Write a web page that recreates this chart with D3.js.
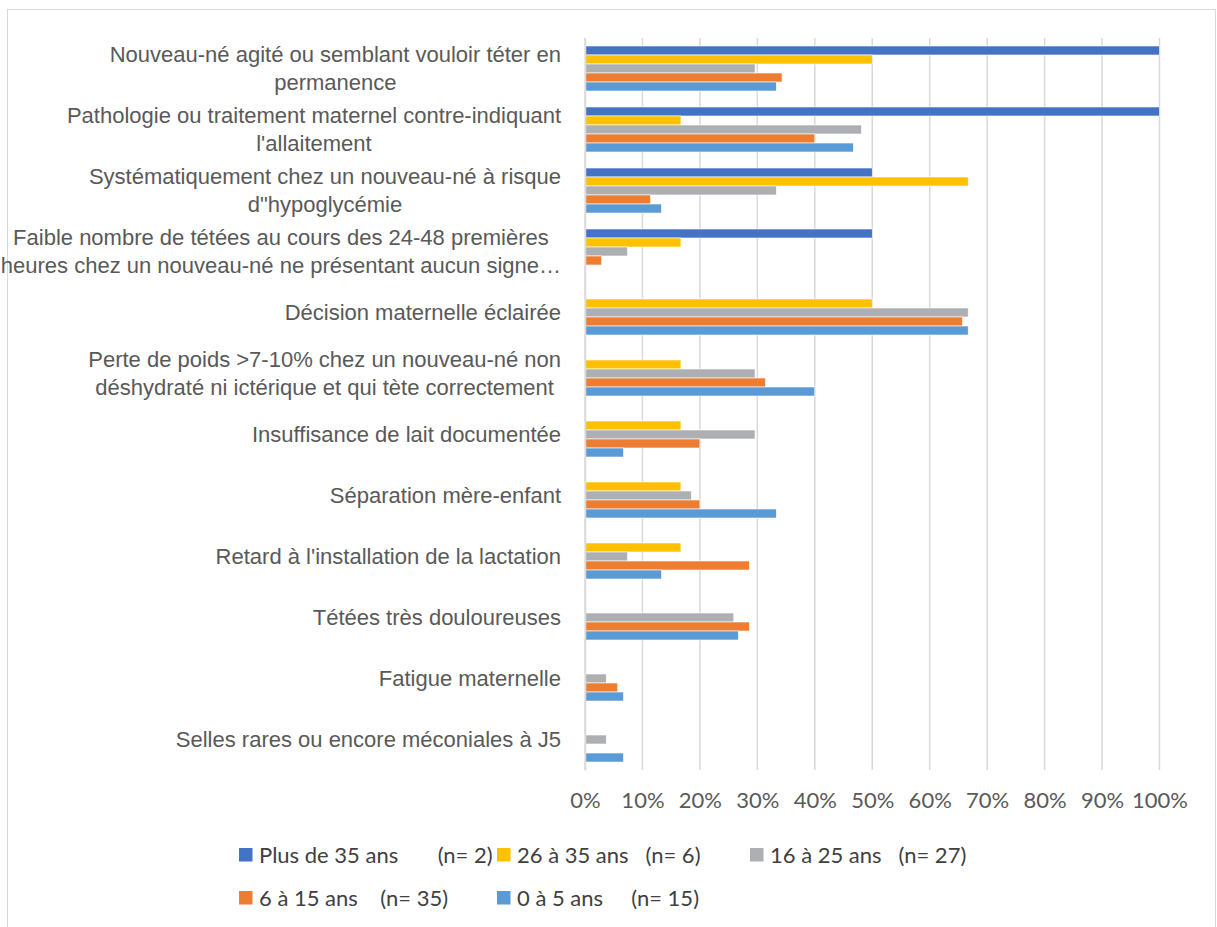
<!DOCTYPE html>
<html lang="fr">
<head>
<meta charset="utf-8">
<script src="https://cdn.jsdelivr.net/npm/d3@7/dist/d3.min.js"></script>
<style>
  html, body { margin: 0; padding: 0; background: #ffffff; }
  svg { display: block; font-family: Lato, "Open Sans", sans-serif; }
</style>
</head>
<body>
<svg id="chart" width="1217" height="927"></svg>
<script>
// Raisons de compléter l'allaitement, par ancienneté (% des répondants)
const categories = [
  "Nouveau-né agité ou semblant vouloir téter en\npermanence",
  "Pathologie ou traitement maternel contre-indiquant\nl'allaitement",
  "Systématiquement chez un nouveau-né à risque\nd\"hypoglycémie",
  "Faible nombre de tétées au cours des 24-48 premières\nheures chez un nouveau-né ne présentant aucun signe…",
  "Décision maternelle éclairée",
  "Perte de poids >7-10% chez un nouveau-né non\ndéshydraté ni ictérique et qui tète correctement",
  "Insuffisance de lait documentée",
  "Séparation mère-enfant",
  "Retard à l'installation de la lactation",
  "Tétées très douloureuses",
  "Fatigue maternelle",
  "Selles rares ou encore méconiales à J5"
];

const seriesNames = ["Plus de 35 ans", "26 à 35 ans", "16 à 25 ans", "6 à 15 ans", "0 à 5 ans"];
const seriesCounts = [2, 6, 27, 35, 15];
const legendLabels = [
  "Plus de 35 ans       (n= 2)",
  "26 à 35 ans   (n= 6)",
  "16 à 25 ans   (n= 27)",
  "6 à 15 ans    (n= 35)",
  "0 à 5 ans     (n= 15)"
];

// Pourcentages par catégorie (même ordre que categories)
const plus35 = [100, 100, 50, 50, 0, 0, 0, 0, 0, 0, 0, 0];
const de26a35 = [50, 16.7, 66.7, 16.7, 50, 16.7, 16.7, 16.7, 16.7, 0, 0, 0];
const de16a25 = [29.6, 48.1, 33.3, 7.4, 66.7, 29.6, 29.6, 18.5, 7.4, 25.9, 3.7, 3.7];
const de6a15 = [34.3, 40, 11.4, 2.9, 65.7, 31.4, 20, 20, 28.6, 28.6, 5.7, 0];
const de0a5 = [33.3, 46.7, 13.3, 0, 66.7, 40, 6.7, 33.3, 13.3, 26.7, 6.7, 6.7];

const xTicks = [0, 10, 20, 30, 40, 50, 60, 70, 80, 90, 100];

const seriesValues = [plus35, de26a35, de16a25, de6a15, de0a5];
const colors = ["#4472C4", "#FFC000", "#AEAFB2", "#ED7D31", "#5B9BD5"];

const svg = d3.select("#chart");

// Cadre de la zone graphique
svg.append("rect")
  .attr("x", 7.5).attr("y", 9.5)
  .attr("width", 1208).attr("height", 940)
  .attr("fill", "none").attr("stroke", "#D9D9D9").attr("stroke-width", 1);

const plotLeft = 585, plotRight = 1159.5, plotTop = 38, plotBottom = 770;

const x = d3.scaleLinear().domain([0, 100]).range([plotLeft, plotRight]);
const y = d3.scaleBand()
  .domain(d3.range(categories.length))
  .range([plotTop, plotBottom])
  .paddingInner(0.262).paddingOuter(0.131);
const ySeries = d3.scaleBand()
  .domain(d3.range(seriesNames.length))
  .range([0, y.bandwidth()]);
const color = d3.scaleOrdinal().domain(d3.range(seriesNames.length)).range(colors);

// Quadrillage vertical
svg.append("g")
  .selectAll("line")
  .data(xTicks)
  .join("line")
  .attr("x1", d => x(d)).attr("x2", d => x(d))
  .attr("y1", plotTop).attr("y2", plotBottom)
  .attr("stroke", "#D9D9D9").attr("stroke-width", 1.5);

// Barres
const groups = svg.append("g")
  .selectAll("g")
  .data(categories.map((c, i) => i))
  .join("g")
  .attr("transform", i => `translate(0,${y(i)})`);

groups.selectAll("rect")
  .data(i => seriesValues.map((vals, s) => ({ s, v: vals[i] })).filter(d => d.v > 0))
  .join("rect")
  .attr("x", x(0))
  .attr("y", d => ySeries(d.s))
  .attr("width", d => x(d.v) - x(0))
  .attr("height", ySeries.bandwidth())
  .attr("fill", d => color(d.s))
  .attr("stroke", "#ffffff").attr("stroke-width", 0.6);

// Axe des catégories (étiquettes, sans ligne)
const yAxis = d3.axisLeft(y).tickSize(0).tickPadding(0).tickFormat(() => "");
const yAxisG = svg.append("g").attr("transform", `translate(${x(0)},0)`).call(yAxis);
yAxisG.select(".domain").attr("stroke", "#D9D9D9").attr("stroke-width", 1.5);

// Étiquettes sur plusieurs lignes : bloc aligné à droite, lignes centrées entre elles
const lineH = 28, labelGap = 24;
yAxisG.selectAll(".tick").each(function(i) {
  const lines = categories[i].split("\n");
  const t = d3.select(this).append("text")
    .attr("text-anchor", "middle")
    .attr("fill", "#595959")
    .attr("font-size", 22);
  const spans = lines.map((ln, k) => t.append("tspan")
    .attr("y", (k - (lines.length - 1) / 2) * lineH)
    .attr("dy", "0.35em")
    .text(ln));
  const maxW = d3.max(spans, s => s.node().getComputedTextLength());
  spans.forEach(s => s.attr("x", -labelGap - maxW / 2));
});

// Axe des valeurs
const xAxis = d3.axisBottom(x).tickValues(xTicks).tickSize(0).tickPadding(0)
  .tickFormat(d => d + "%");
const xAxisG = svg.append("g").attr("transform", `translate(0,${plotBottom})`).call(xAxis);
xAxisG.select(".domain").remove();
xAxisG.selectAll("text")
  .attr("fill", "#595959")
  .attr("font-size", 22)
  .attr("font-family", "Lato, 'Open Sans', sans-serif")
  .attr("y", 30)
  .attr("dy", "0.35em");

// Légende
const legendPos = [[239, 855], [497, 855], [750, 855], [239, 898], [497, 898]];
const legend = svg.append("g")
  .selectAll("g")
  .data(seriesNames.map((n, i) => i))
  .join("g")
  .attr("transform", i => `translate(${legendPos[i][0]},${legendPos[i][1]})`);
legend.append("rect")
  .attr("x", 0).attr("y", -7)
  .attr("width", 13.5).attr("height", 13.5)
  .attr("fill", i => color(i));
legend.append("text")
  .attr("x", 20).attr("y", 0).attr("dy", "0.35em")
  .attr("fill", "#404040")
  .attr("font-size", 22)
  .style("white-space", "pre")
  .text(i => legendLabels[i]);
</script>
</body>
</html>
